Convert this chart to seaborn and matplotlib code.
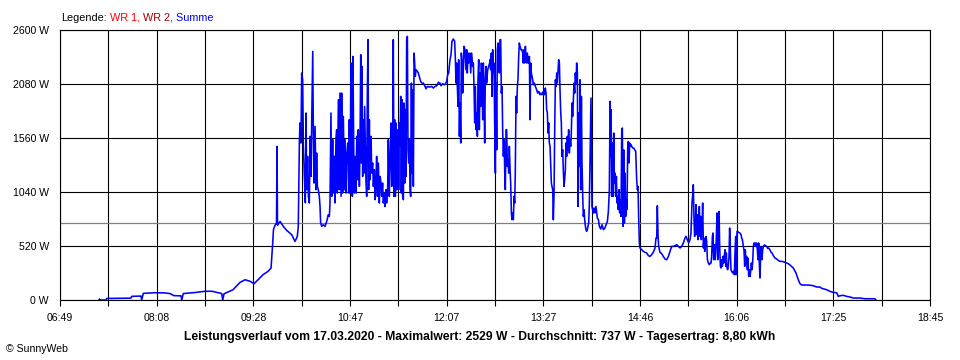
import numpy as np
import pandas as pd
import matplotlib
matplotlib.use("Agg")
import matplotlib.pyplot as plt
import seaborn as sns

# ---- data: time in minutes since midnight, power in W (Summe) ----
morning_t = [441.1, 441.5, 441.9, 446.9, 447.4, 467.4, 468.0, 475.7, 476.2, 477.6, 487.2, 495.4,
             499.5, 502.8, 508.6, 509.2, 510.5, 520.1, 528.3, 534.1, 539.0, 542.1, 542.9, 544.0,
             551.4, 557.1, 561.3, 565.4, 568.7, 572.0, 576.1, 580.2, 582.7, 583.9, 584.7, 586.0,
             587.2, 587.6, 588.0, 590.1, 592.8, 595.6, 599.7, 602.4, 604.3, 605.1]
morning_w = [0, 10, 0, 0, 15, 18, 35, 38, 0, 64, 70, 68,
             62, 42, 40, 0, 62, 72, 84, 84, 70, 62, 0, 60,
             99, 169, 195, 180, 157, 195, 244, 276, 308, 520, 680, 720,
             740, 1480, 720, 757, 709, 670, 629, 564, 612, 709]

late_morning_t = [606.0, 606.5, 607.3, 607.9, 608.7, 609.3, 610.1, 610.9, 611.5, 612.0, 612.8, 613.4,
                  614.2, 614.8, 615.6, 616.1, 617.0, 617.5, 618.0, 618.9, 619.7, 620.2, 620.8, 621.6,
                  622.4, 623.0, 623.5, 624.4, 625.7, 627.1, 628.5, 629.8, 630.7, 631.2, 632.0, 632.6,
                  633.4, 633.9, 634.8, 635.3, 636.1, 636.7, 637.2, 638.1, 638.9, 639.4, 640.3, 640.8,
                  641.6, 642.2, 643.0, 643.6, 644.4, 644.9, 645.8, 646.6, 647.1, 647.7, 648.5, 649.0,
                  649.6, 650.1, 650.7, 651.2, 651.8, 652.6, 653.2, 654.0, 654.5, 655.4, 655.9, 656.5,
                  657.0, 657.5, 658.1, 658.6, 659.2, 659.7, 660.3, 660.8, 661.4, 661.9, 662.5, 663.0,
                  663.6, 664.1, 665.0, 665.5, 666.3, 666.9, 667.7, 668.2, 669.1, 669.6, 670.2, 671.0,
                  671.8, 672.4, 673.2, 673.7, 674.5, 675.1, 675.9, 676.5, 677.3, 677.8, 678.7, 679.2, 680.0]
late_morning_w = [1512, 1705, 1512, 2186, 2121, 1493, 1190, 937, 1801, 1062, 1383, 998,
                  934, 1576, 1190, 1672, 2394, 1608, 1126, 1672, 1062, 1415, 1094, 1062,
                  998, 901, 742, 709, 725, 709, 757, 821, 805, 937, 1801, 998,
                  1544, 1030, 1383, 934, 1544, 1640, 1030, 1929, 1062, 1993, 998, 1993,
                  1030, 1768, 1062, 1544, 1030, 1383, 1512, 1030, 1736, 1030, 2282, 1319,
                  998, 2346, 1480, 1030, 1383, 1030, 1576, 1158, 1640, 1094, 1480, 2362,
                  1319, 2250, 1190, 1736, 1222, 1864, 1480, 1158, 998, 1961, 2507, 1062,
                  1736, 1158, 1576, 1222, 1319, 1094, 1254, 966, 1190, 1383, 998, 1319,
                  934, 1190, 1126, 998, 1126, 934, 1030, 901, 1062, 934, 1094, 1544, 998]

noon_t = [680.6, 681.4, 682.0, 682.8, 683.3, 683.9, 684.4, 685.0, 685.5, 686.1, 686.6, 687.2,
          687.7, 688.3, 688.8, 689.4, 689.9, 690.5, 691.0, 691.6, 692.1, 692.7, 693.2, 693.8,
          694.3, 694.9, 695.4, 696.0, 696.5, 697.1, 697.6, 698.2, 698.7, 699.3, 699.8, 700.4,
          700.9, 701.4, 702.0, 703.1, 703.9, 704.7, 705.8, 706.7, 708.0, 709.4, 710.2, 711.3,
          713.0, 714.9, 716.3, 717.6, 719.0, 720.4, 721.7, 722.6, 723.9, 725.3, 726.4, 727.2,
          728.1, 728.9, 729.4, 730.0, 730.8, 731.6, 732.7, 733.8, 734.4, 734.9, 735.5, 736.0,
          736.6, 737.1, 737.7, 738.2, 738.8, 739.3, 739.9, 740.4, 741.0, 741.5, 742.3, 743.1,
          743.7, 744.2, 744.8, 745.3, 745.9, 746.4, 747.0, 747.8, 748.6, 749.2, 749.7, 750.3,
          750.8, 751.4, 751.9, 752.5, 753.0, 753.6, 754.1, 754.7, 755.2, 755.8, 756.3, 756.9,
          757.4, 757.9, 758.5, 759.0, 759.6, 760.1, 761.0, 761.8, 762.6]
noon_w = [1351, 1705, 1094, 1544, 2507, 998, 1736, 998, 1705, 1062, 1190, 1640,
          1062, 1705, 1480, 1961, 1030, 1929, 998, 966, 1897, 1126, 1833, 1190,
          2507, 2539, 1447, 1319, 1544, 1062, 998, 2089, 1222, 2025, 1094, 2378,
          2282, 2153, 2218, 2202, 2186, 2153, 2105, 2089, 2089, 2057, 2034, 2057,
          2050, 2057, 2041, 2057, 2063, 2096, 2089, 2063, 2083, 2073, 2083, 2105,
          2170, 2186, 2250, 2314, 2362, 2491, 2513, 2491, 2314, 2089, 2282, 2057,
          1864, 2314, 1576, 1897, 1512, 2378, 2282, 1993, 2250, 2443, 2410, 2218,
          2410, 2186, 2378, 2282, 2346, 2378, 2186, 2378, 2250, 2282, 2057, 1705,
          2057, 1640, 1801, 1576, 2121, 2314, 1640, 2186, 1864, 2282, 2089, 1736,
          2282, 2025, 1512, 2121, 2250, 2089, 2218, 2250, 2282]

afternoon_t = [762.9, 763.4, 764.0, 764.5, 765.1, 765.6, 766.2, 766.7, 767.3, 767.8, 768.4, 768.9,
               769.5, 770.0, 770.6, 771.1, 771.7, 772.2, 772.8, 773.3, 773.9, 774.4, 775.0, 775.5,
               776.1, 776.6, 777.2, 777.7, 778.3, 778.8, 779.4, 779.9, 780.5, 781.0, 781.6, 782.1,
               782.7, 783.2, 783.7, 784.3, 784.8, 785.4, 785.9, 786.5, 787.0, 787.6, 788.4, 789.2,
               789.8, 790.3, 790.9, 791.4, 792.0, 792.5, 793.1, 793.6, 794.4, 795.3, 795.8, 796.4,
               796.9, 797.5, 798.0, 798.6, 799.4, 800.2, 801.3, 802.1, 803.0, 804.0, 804.9, 805.7,
               806.8, 807.6, 808.4, 809.0, 809.5, 810.1, 810.6, 811.2, 811.7, 812.3, 812.8, 813.4,
               813.9, 814.5, 815.0, 815.6, 816.1, 816.7, 817.2, 817.8, 818.3, 818.9, 819.4, 820.0,
               820.5, 821.1, 821.6, 822.1, 822.7, 823.2, 823.8, 824.3, 824.9, 825.4, 826.0, 826.5,
               827.1, 827.6, 828.2, 828.7, 829.3, 829.8, 830.4, 830.9, 831.5, 832.0, 832.6, 833.1,
               833.7, 834.2, 834.8, 835.3, 835.9, 836.4, 837.0, 837.5, 838.1, 838.6, 839.2, 839.7,
               840.3, 840.8, 841.4, 841.9, 842.4, 843.0, 843.5, 844.1, 844.6]
afternoon_w = [2314, 2218, 2378, 1961, 2410, 2186, 2282, 1736, 1222, 2089, 1447, 2410,
               2475, 2282, 2186, 2507, 2507, 1993, 2057, 1640, 1383, 1544, 1254, 1062,
               1640, 1640, 1286, 1351, 1222, 1480, 1254, 1126, 837, 773, 837, 773,
               998, 934, 1222, 1961, 1801, 2057, 2121, 2346, 2475, 2443, 2410, 2410,
               2378, 2282, 2410, 2282, 2443, 2346, 2282, 2378, 2282, 2346, 1736, 2282,
               2186, 2153, 2121, 2073, 2089, 2057, 2025, 1993, 2009, 1977, 1993, 1977,
               2009, 1977, 2041, 1993, 1833, 1801, 1608, 1705, 1512, 1480, 1319, 1126,
               1094, 1062, 773, 1030, 1608, 2121, 2057, 2186, 2089, 2218, 2314, 2282,
               2025, 1801, 1705, 1383, 1447, 1254, 1094, 1158, 1254, 1512, 1383, 1576,
               1447, 1640, 1415, 1544, 1480, 1608, 1897, 1768, 1929, 2089, 1993, 2186,
               2089, 2282, 2186, 901, 1801, 1286, 2121, 1062, 1961, 1319, 998, 805,
               869, 773, 709, 677, 661, 677, 709, 741, 901]

late_afternoon_t = [846.0, 846.8, 847.9, 848.5, 849.3, 850.1, 850.7, 851.2, 852.1, 852.9, 854.0, 855.1,
                    856.2, 857.5, 858.4, 859.5, 860.3, 861.1, 861.7, 862.2, 862.5, 863.0, 863.6, 864.1,
                    864.7, 865.2, 865.8, 866.3, 866.9, 867.4, 868.0, 868.5, 869.1, 869.6, 870.2, 870.7,
                    871.3, 871.8, 872.4, 872.9, 873.5, 874.0, 874.6, 875.1, 875.6, 876.2, 876.7, 877.3,
                    877.8, 878.4, 878.9, 879.5, 880.3, 881.1, 882.0, 882.8, 883.6, 884.2, 884.7, 885.2,
                    885.8, 886.3, 887.7, 889.1, 890.5, 891.8, 893.2, 894.6, 895.9, 897.3, 898.7, 899.5,
                    900.1, 900.6, 901.2, 901.7, 902.8, 904.2, 905.5, 906.9, 908.3, 909.7, 911.0, 912.4,
                    913.8, 915.1, 916.5, 917.9, 919.3, 920.6, 922.0, 923.4, 924.2, 925.3, 926.4]
late_afternoon_w = [1945, 901, 838, 886, 838, 901, 838, 790, 775, 709, 684, 725,
                    677, 695, 725, 757, 853, 1062, 1913, 1383, 1833, 998, 1512, 998,
                    1608, 1126, 1222, 998, 1190, 934, 998, 870, 1062, 838, 966, 805,
                    1640, 1656, 709, 1447, 741, 1222, 805, 966, 870, 1447, 1527, 1319,
                    1512, 1480, 1496, 1480, 1464, 1464, 1447, 1431, 1158, 1062, 1094, 805,
                    549, 501, 484, 468, 459, 453, 427, 420, 436, 459, 501, 597,
                    597, 908, 613, 516, 459, 446, 420, 395, 388, 420, 468, 516,
                    516, 523, 533, 516, 501, 516, 549, 597, 613, 581, 549]

evening_t = [927.5, 928.3, 929.1, 929.7, 930.2, 930.8, 931.3, 931.9, 932.4, 933.0, 933.5, 934.1,
             934.6, 935.2, 935.7, 936.3, 936.8, 937.4, 937.9, 938.5, 939.0, 939.6, 940.1, 940.7,
             941.2, 941.8, 942.6, 943.4, 944.2, 944.8, 945.3, 945.9, 946.4, 947.0, 947.5, 948.1,
             948.6, 949.2, 949.7, 950.3, 950.8, 951.4, 951.9, 952.5, 953.0, 953.6, 954.1, 954.7,
             955.2, 955.8, 956.3, 956.9, 957.4, 957.9, 958.5, 959.0, 959.6, 960.1, 960.7, 961.2,
             961.8, 962.6, 963.4, 964.0, 964.5, 965.1, 965.4, 965.6, 966.2, 966.7, 967.5, 968.6,
             969.5, 970.0, 970.6, 971.4, 971.9, 972.5, 973.0, 973.6, 974.1, 974.7, 975.2, 975.8,
             976.3, 976.9, 977.4, 978.0, 978.5, 979.1, 979.6, 980.2, 980.7, 981.3, 981.8, 982.4,
             982.9, 983.5, 984.0, 984.6, 985.1, 985.7, 986.2, 986.7, 987.3, 987.8, 988.7, 989.5,
             990.6, 991.4, 992.2, 993.3, 994.2, 995.0, 996.1, 997.4, 998.8, 1000.2, 1001.6, 1002.9,
             1004.3, 1005.7, 1007.1, 1008.4, 1009.5]
evening_w = [581, 645, 934, 1014, 1110, 773, 612, 725, 918, 629, 821, 581,
             773, 901, 612, 805, 581, 709, 934, 501, 597, 468, 581, 612,
             564, 388, 356, 340, 356, 356, 420, 612, 645, 388, 533, 388,
             453, 612, 838, 388, 581, 853, 516, 324, 308, 388, 324, 420,
             356, 436, 484, 324, 453, 308, 292, 324, 420, 693, 484, 292,
             276, 260, 276, 244, 453, 612, 244, 404, 661, 661, 651, 645,
             629, 597, 581, 516, 484, 324, 484, 356, 420, 292, 404, 227,
             292, 227, 276, 356, 292, 372, 516, 549, 523, 549, 516, 549,
             484, 388, 549, 324, 212, 484, 516, 388, 484, 516, 530, 523,
             516, 497, 500, 484, 459, 453, 427, 404, 395, 381, 372, 372,
             369, 362, 356, 349, 340]

dusk_t = [1012.5, 1014.7, 1016.6, 1018.0, 1019.4, 1024.8, 1028.9, 1031.7, 1034.5, 1035.9, 1040.0,
          1042.7, 1045.4, 1048.2, 1049.5, 1050.9, 1053.7, 1056.4, 1059.2, 1061.9, 1067.4, 1071.5,
          1079.7, 1080.5]
dusk_w = [308, 260, 195, 157, 144, 144, 138, 125, 125, 112, 99,
          83, 73, 70, 35, 41, 45, 35, 29, 19, 19, 12,
          12, 0]

average_w = 737
x_tick_labels = ["06:49", "08:08", "09:28", "10:47", "12:07", "13:27", "14:46", "16:06", "17:25", "18:45"]
y_tick_values = [0, 520, 1040, 1560, 2080, 2600]
y_tick_labels = ["0 W", "520 W", "1040 W", "1560 W", "2080 W", "2600 W"]
x_start, x_end = 409, 1125  # 06:49 .. 18:45 in minutes

legend_parts = [("Legende:", "black"), (" WR 1,", "#ff0000"), (" WR 2,", "#a00000"), (" Summe", "#0000ff")]
footer = "Leistungsverlauf vom 17.03.2020 - Maximalwert: 2529 W - Durchschnitt: 737 W - Tagesertrag: 8,80 kWh"
copyright_text = "\u00a9 SunnyWeb"

times = morning_t + late_morning_t + noon_t + afternoon_t + late_afternoon_t + evening_t + dusk_t
watts = morning_w + late_morning_w + noon_w + afternoon_w + late_afternoon_w + evening_w + dusk_w
df = pd.DataFrame({"t": times, "w": watts})

# ---- styling ----
sns.set_theme(style="white")
plt.rcParams["font.family"] = ["Liberation Sans", "DejaVu Sans"]
FS = 7.6

fig = plt.figure(figsize=(9.6, 3.6), dpi=100)
fig.patch.set_facecolor("white")
ax = fig.add_axes([60 / 960, 60 / 360, 870 / 960, 270 / 360])
ax.set_facecolor("white")

sns.lineplot(data=df, x="t", y="w", ax=ax, color="#0000ff", linewidth=1.15,
             estimator=None, sort=False, zorder=3)
ax.axhline(average_w, color="#808080", linewidth=0.9, zorder=2)

ax.set_xlim(x_start, x_end)
ax.set_ylim(0, 2600)
grid_x = np.linspace(x_start, x_end, 19)
ax.set_xticks(grid_x[::2])
ax.set_xticklabels(x_tick_labels, fontsize=FS)
ax.set_xticks(grid_x[1::2], minor=True)
ax.set_yticks(y_tick_values)
ax.set_yticklabels(y_tick_labels, fontsize=FS)
ax.grid(True, which="both", axis="x", color="black", linewidth=0.8)
ax.grid(True, which="major", axis="y", color="black", linewidth=0.8)
ax.set_axisbelow(True)
ax.tick_params(axis="x", which="both", bottom=True, direction="out", length=4,
               width=0.8, color="black", pad=5.5, labelcolor="black")
ax.tick_params(axis="y", which="both", left=False, length=0, pad=8, labelcolor="black")
for s in ax.spines.values():
    s.set_color("black")
    s.set_linewidth(0.8)
    s.set_visible(True)
ax.set_xlabel("")
ax.set_ylabel("")

# legend line (coloured text pieces)
LFS = 7.8
fig.canvas.draw()
renderer = fig.canvas.get_renderer()
x0 = 61 / 960
yb = 1 - 21 / 360
prefix = ""
for txt, col in legend_parts:
    if prefix:
        probe = fig.text(x0, yb, prefix, fontsize=LFS)
        w = probe.get_window_extent(renderer).width / fig.bbox.width
        probe.remove()
    else:
        w = 0
    fig.text(x0 + w, yb, txt, fontsize=LFS, color=col, va="baseline", ha="left")
    prefix += txt

fig.text(480 / 960, 1 - 340 / 360, footer, fontsize=8.7, fontweight="bold",
         ha="center", va="baseline", color="black")
fig.text(6 / 960, 1 - 352.5 / 360, copyright_text, fontsize=FS, ha="left", va="baseline", color="black")

fig.savefig("out.png", dpi=100, facecolor="white")
